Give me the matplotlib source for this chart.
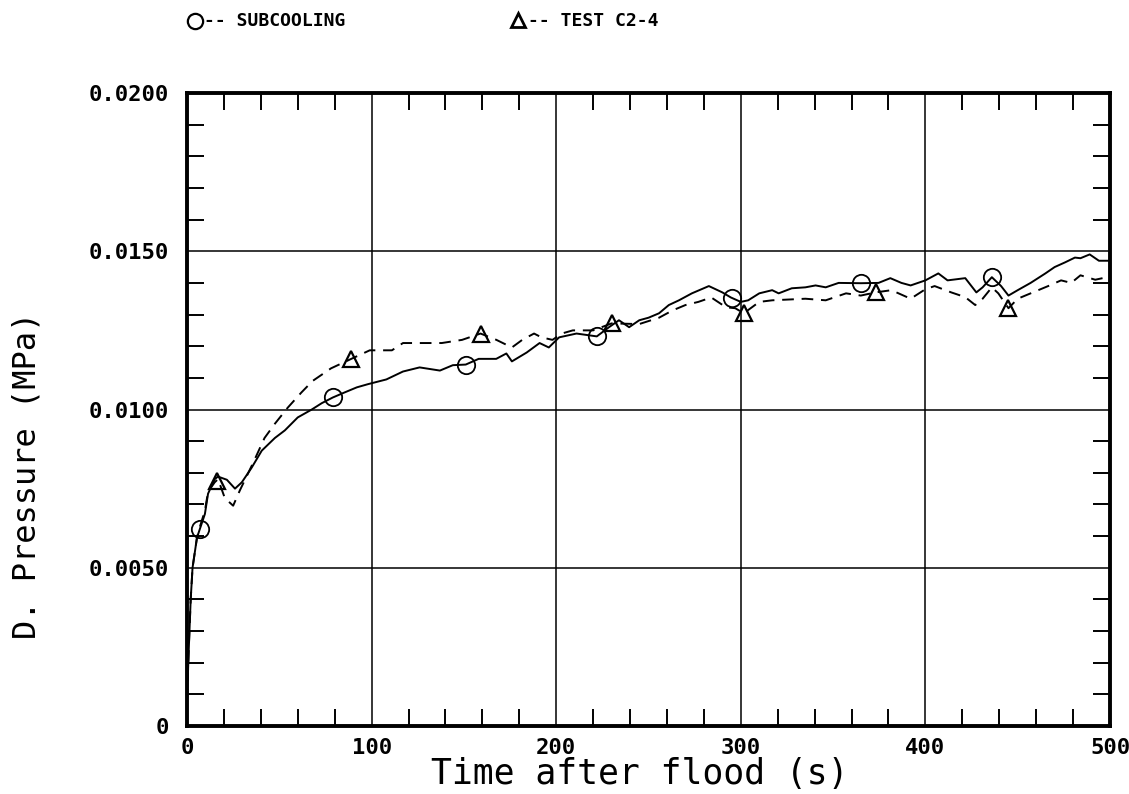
import numpy as np
import matplotlib
matplotlib.use("Agg")
import matplotlib.pyplot as plt
from matplotlib.lines import Line2D
from matplotlib.ticker import MultipleLocator

t_sub = [0, 1, 2, 3, 5.4, 7, 9.7, 11.4, 15, 16.8, 21.6, 26, 29.7, 35, 40.5,
         47.6, 53, 60, 67.6, 73, 79, 85.4, 92, 98, 108, 117, 126, 137, 144,
         151, 158, 167.5, 173, 176, 184, 191, 196, 201.6, 211, 222, 228.6,
         234, 239.5, 245, 250, 255.7, 261, 266.5, 273.5, 282.7, 290, 294.6,
         300, 304, 310, 317, 320.5, 327.6, 335, 340.5, 346, 353, 365, 374.6,
         381, 387, 392, 400, 407, 412, 421.6, 427.6, 431, 436, 441, 445, 450,
         457, 465, 470, 475.7, 481, 484, 489, 494, 500]
p_sub = [0.0008, 0.0025, 0.0040, 0.0050, 0.00595, 0.00623, 0.0067, 0.00734,
         0.0078, 0.00788, 0.00778, 0.0075, 0.0077, 0.00816, 0.0087, 0.0091,
         0.00934, 0.00975, 0.0100, 0.0102, 0.01038, 0.01054, 0.0107, 0.0108,
         0.01095, 0.0112, 0.01133, 0.01123, 0.0114, 0.01142, 0.0116, 0.0116,
         0.01177, 0.01152, 0.0118, 0.0121, 0.01196, 0.01228, 0.0124, 0.01231,
         0.0126, 0.01282, 0.0126, 0.01282, 0.0129, 0.01304, 0.0133, 0.01345,
         0.01367, 0.0139, 0.0137, 0.01354, 0.0134, 0.01345, 0.01367, 0.01377,
         0.01367, 0.01383, 0.01386, 0.01392, 0.01386, 0.0140, 0.01399, 0.0140,
         0.01415, 0.0140, 0.01392, 0.01408, 0.0143, 0.01408, 0.01415, 0.0137,
         0.01386, 0.01418, 0.0139, 0.0136, 0.01377, 0.0140, 0.0143, 0.0145,
         0.01465, 0.0148, 0.01478, 0.0149, 0.0147, 0.0147]

t_test = [0, 1, 2, 3, 5.4, 7, 9.7, 11.4, 15, 16.8, 20.5, 25, 28.6, 35.7, 42,
          47.6, 54.6, 62, 68, 78, 89, 99, 111, 117, 131, 138, 149, 159, 167.6,
          176, 181.6, 188, 192, 198, 203, 209, 220, 230, 245, 255.7, 263, 270,
          277, 284, 292, 297, 301.6, 310, 317, 335, 346, 357, 365, 373, 381.6,
          392, 400, 405, 414, 421.6, 427, 431, 436, 439.5, 445, 450, 457,
          466.5, 473.5, 479, 484, 492, 500]
p_test = [0.0008, 0.0025, 0.0040, 0.0050, 0.00595, 0.0063, 0.0068, 0.0074,
          0.0077, 0.0078, 0.0072, 0.00696, 0.00744, 0.0083, 0.0091, 0.00955,
          0.01006, 0.01054, 0.0109, 0.0113, 0.0116, 0.01187, 0.01187, 0.0121,
          0.0121, 0.0121, 0.0122, 0.0124, 0.0122, 0.01196, 0.0122, 0.0124,
          0.01228, 0.0122, 0.0124, 0.0125, 0.0125, 0.01272, 0.0127, 0.0129,
          0.01313, 0.0133, 0.0134, 0.01354, 0.01323, 0.0132, 0.01304, 0.0134,
          0.01345, 0.0135, 0.01345, 0.01367, 0.0136, 0.0137, 0.01377, 0.0135,
          0.0138, 0.0139, 0.0137, 0.01355, 0.0133, 0.0135, 0.01386, 0.01367,
          0.0132, 0.0135, 0.01367, 0.0139, 0.01408, 0.0140, 0.01424, 0.0141,
          0.0142]

# times at which the plotter dropped its symbols
t_circle = [7, 79, 151, 222, 295, 365, 436]
t_triangle = [16, 89, 159, 230, 302, 373, 445]

y_ticks = [0, 0.005, 0.010, 0.015, 0.020]
y_ticklabels = ["0", "0.0050", "0.0100", "0.0150", "0.0200"]

MONO = "DejaVu Sans Mono"
W, H = 1129, 794
AX_L, AX_R, AX_T, AX_B = 187, 1110, 93, 726

fig = plt.figure(figsize=(W / 100, H / 100), dpi=100)
ax = fig.add_axes([AX_L / W, 1 - AX_B / H, (AX_R - AX_L) / W, (AX_B - AX_T) / H])

ax.plot(t_sub, p_sub, color="black", lw=1.4, ls="-")
ax.plot(t_test, p_test, color="black", lw=1.4, ls=(0, (6, 4)))
ax.plot(t_circle, np.interp(t_circle, t_sub, p_sub), ls="none", marker="o",
        ms=12.5, mfc="none", mec="black", mew=1.3)
ax.plot(t_triangle, np.interp(t_triangle, t_test, p_test), ls="none",
        marker="^", ms=11, mfc="none", mec="black", mew=1.6)

ax.set_xlim(0, 500)
ax.set_ylim(0, 0.02)
ax.xaxis.set_major_locator(MultipleLocator(100))
ax.xaxis.set_minor_locator(MultipleLocator(20))
ax.set_yticks(y_ticks)
ax.set_yticklabels(y_ticklabels)
ax.yaxis.set_minor_locator(MultipleLocator(0.001))
ax.grid(True, which="major", color="black", lw=1.1)
ax.set_axisbelow(True)

ax.tick_params(which="both", direction="in", top=True, right=True,
               colors="black")
ax.tick_params(which="major", length=0)
ax.tick_params(axis="x", which="major", pad=9)
ax.tick_params(axis="y", which="major", pad=13)
ax.tick_params(which="minor", length=12, width=1.4)
for lab in ax.get_xticklabels() + ax.get_yticklabels():
    lab.set_fontfamily(MONO)
    lab.set_fontweight("bold")
    lab.set_fontsize(16)
for s in ax.spines.values():
    s.set_linewidth(2.8)

ax.set_xlabel("Time after flood (s)", fontfamily=MONO, fontsize=25,
              va="center")
ax.xaxis.set_label_coords((640 - AX_L) / (AX_R - AX_L),
                          -(774 - AX_B) / (AX_B - AX_T))
ax.set_ylabel("D. Pressure (MPa)", fontfamily=MONO, fontsize=23,
              va="center")
ax.yaxis.set_label_coords(-(AX_L - 27) / (AX_R - AX_L),
                          (AX_B - 475) / (AX_B - AX_T))

# legend row above the axes
fig.add_artist(Line2D([195 / W], [1 - 21 / H], marker="o", ms=11,
                      mfc="none", mec="black", mew=1.6))
fig.text(204 / W, 1 - 21 / H, "-- SUBCOOLING", fontfamily=MONO,
         fontweight="bold", fontsize=13, va="center", ha="left")
fig.add_artist(Line2D([518 / W], [1 - 20 / H], marker="^", ms=10,
                      mfc="none", mec="black", mew=2.0))
fig.text(528 / W, 1 - 21 / H, "-- TEST C2-4", fontfamily=MONO,
         fontweight="bold", fontsize=13, va="center", ha="left")

fig.savefig("out.png", dpi=100)
